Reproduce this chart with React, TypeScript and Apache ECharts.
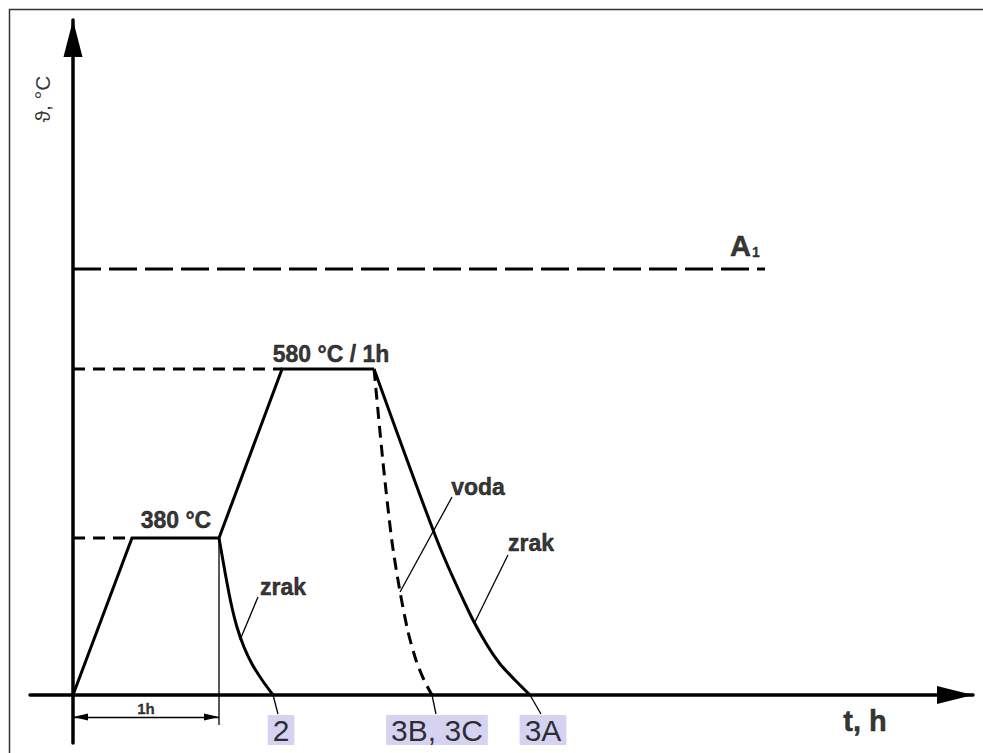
import React, { useEffect, useRef } from "react";
import * as echarts from "echarts";

// Time in hours; temperature as schematic level (diagram is not to scale)
const heatingTime = [0, 0.404, 1.0, 1.432, 2.062];
const heatingLevel = [0, 157, 157, 326, 326];
const airCool380Time = [1.0, 1.041, 1.082, 1.123, 1.171, 1.226, 1.295, 1.37];
const airCool380Level = [157, 123, 92, 68, 48, 31, 15, 0];
const airCool580Time = [2.062, 2.493, 2.719, 2.836, 2.925, 3.027, 3.13];
const airCool580Level = [326, 155, 81, 50, 31, 15, 0];
const waterCoolTime = [2.062, 2.123, 2.185, 2.24, 2.295, 2.349, 2.404, 2.459];
const waterCoolLevel = [326, 233, 153, 103, 63, 35, 15, 0];

const refLineLevels = [157, 326]; // 380 °C, 580 °C
const refLineEnds = [0.404, 1.432];
const a1Level = 426;
const a1End = 4.74;

// leader lines: [t1, l1, t2, l2]
const leaderLines = [
  [1.267, 98, 1.144, 55],
  [2.596, 198, 2.24, 103],
  [2.979, 140, 2.753, 73],
  [1.37, 0, 1.404, -19],
  [2.459, 0, 2.486, -19],
  [3.13, 0, 3.205, -19],
  [1.0, 157, 1.0, -30],
];

const curveLabels = ["380 °C", "580 °C / 1h", "zrak", "voda", "zrak"];
const curveLabelTime = [0.705, 1.767, 1.438, 2.774, 3.137];
const curveLabelLevel = [175, 341, 108, 208, 152];

const boxLabels = ["2", "3B, 3C", "3A"];
const boxLabelTime = [1.425, 2.493, 3.219];
const boxLabelLevel = [-35, -35, -35];

const FONT = "'Liberation Sans', Arial, 'DejaVu Sans', sans-serif";

export default function App() {
  const ref = useRef<HTMLDivElement>(null);
  useEffect(() => {
    if (!ref.current) return;
    const chart = echarts.init(ref.current, undefined, { renderer: "svg" });
    const zip = (a: number[], b: number[]) => a.map((v, i) => [v, b[i]]);
    const black = "#000";
    const lineSeries = (data: number[][], width: number, type: any = "solid", smooth: any = false) => ({
      type: "line",
      data,
      symbol: "none",
      smooth,
      silent: true,
      animation: false,
      lineStyle: { color: black, width, type, join: "miter" },
      z: 3,
    });
    const series: any[] = [
      lineSeries(zip(heatingTime, heatingLevel), 3),
      lineSeries(zip(airCool380Time, airCool380Level), 3, "solid", 0.25),
      lineSeries(zip(airCool580Time, airCool580Level), 3, "solid", 0.25),
      lineSeries(zip(waterCoolTime, waterCoolLevel), 3, [12, 7], 0.25),
      ...refLineLevels.map((lv, i) => lineSeries([[0, lv], [refLineEnds[i], lv]], 3, [12, 8])),
      lineSeries([[0, a1Level], [a1End, a1Level]], 3, [28, 8]),
      ...leaderLines.map((l) => lineSeries([[l[0], l[1]], [l[2], l[3]]], 1.3)),
    ];
    // dimension line 1h
    series.push({
      type: "line",
      data: [],
      symbol: "none",
      silent: true,
      markLine: {
        silent: true,
        animation: false,
        symbol: ["triangle", "triangle"],
        symbolSize: [7, 15],
        symbolOffset: [[0, 7.5], [0, 7.5]],
        lineStyle: { color: black, width: 1.3, type: "solid" },
        label: { show: false },
        data: [[{ coord: [0, -22] }, { coord: [1, -22] }]],
      },
    });
    const bold = { fontWeight: "bold", textBorderColor: "#000", textBorderWidth: 0.5 };
    const textItems: any[] = [];
    curveLabels.forEach((t, i) => {
      textItems.push({
        value: [curveLabelTime[i], curveLabelLevel[i]],
        label: { formatter: t, fontSize: 23, ...bold },
      });
    });
    boxLabels.forEach((t, i) => {
      textItems.push({
        value: [boxLabelTime[i], boxLabelLevel[i]],
        label: {
          formatter: t,
          fontSize: 30,
          fontWeight: "normal",
          color: "#000",
          backgroundColor: "#cbc7ef",
          padding: [0, 5, 0, 5],
          lineHeight: 30,
        },
      });
    });
    textItems.push({ value: [0.5, -13], label: { formatter: "1h", fontSize: 15, ...bold, textBorderWidth: 0.3 } });
    textItems.push({ value: [5.425, -26], label: { formatter: "t, h", fontSize: 29, ...bold } });
    textItems.push({ value: [-0.212, 596], label: { formatter: "ϑ, °C", fontSize: 21, fontWeight: "normal", rotate: 90 } });
    textItems.push({
      value: [4.5, 449],
      label: {
        formatter: "{a|A}{b|1}",
        align: "left",
        rich: {
          a: { fontSize: 29, fontFamily: FONT, color: "#000", verticalAlign: "bottom", ...bold },
          b: { fontSize: 14, fontFamily: FONT, color: "#000", verticalAlign: "bottom", padding: [0, 0, 2, 1], ...bold, textBorderWidth: 0.3 },
        },
      },
    });
    series.push({
      type: "scatter",
      symbolSize: 0,
      silent: true,
      z: 5,
      label: { show: true, position: "inside", color: "#000", fontFamily: FONT },
      data: textItems,
    });

    chart.setOption({
      animation: false,
      backgroundColor: "#fff",
      grid: { left: 30, right: 10, top: 20, bottom: 10, containLabel: false, outerBoundsMode: "none" },
      xAxis: {
        type: "value",
        min: -0.29452,
        max: 6.16438,
        axisLine: {
          show: true,
          onZero: true,
          lineStyle: { color: black, width: 3.5 },
          symbol: ["none", "triangle"],
          symbolSize: [18, 36],
          symbolOffset: [0, -18],
        },
        axisTick: { show: false },
        axisLabel: { show: false },
        splitLine: { show: false },
      },
      yAxis: {
        type: "value",
        min: -48,
        max: 675,
        axisLine: {
          show: true,
          onZero: true,
          lineStyle: { color: black, width: 3.5 },
          symbol: ["none", "triangle"],
          symbolSize: [19, 37],
          symbolOffset: [0, -18.5],
        },
        axisTick: { show: false },
        axisLabel: { show: false },
        splitLine: { show: false },
      },
      graphic: [
        {
          type: "rect",
          left: 7,
          top: 7,
          shape: { width: 1000, height: 800 },
          style: { fill: "none", stroke: "#333", lineWidth: 1.5 },
          silent: true,
          z: 10,
        },
      ],
      series,
    });
    return () => chart.dispose();
  }, []);
  return (
    <div
      ref={ref}
      style={{ position: "fixed", left: 0, top: 0, width: 983, height: 753 }}
    />
  );
}
